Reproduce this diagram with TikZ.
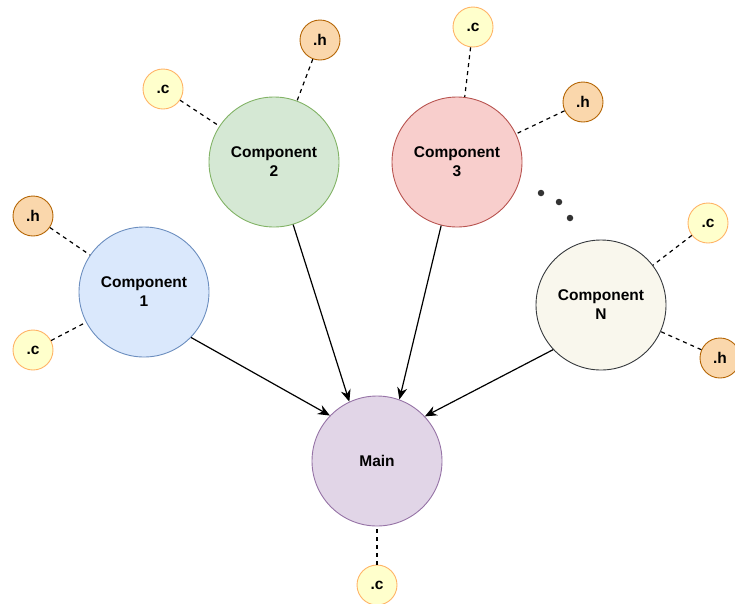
\documentclass[tikz,border=0pt]{standalone}
\usepackage{fontspec}
\setmainfont{Liberation Sans}
\usetikzlibrary{arrows.meta}
\definecolor{blueF}{HTML}{DAE8FC}\definecolor{blueD}{HTML}{6C8EBF}
\definecolor{greenF}{HTML}{D5E8D4}\definecolor{greenD}{HTML}{82B366}
\definecolor{redF}{HTML}{F8CECC}\definecolor{redD}{HTML}{B85450}
\definecolor{greyF}{HTML}{F9F7ED}\definecolor{greyD}{HTML}{36393D}
\definecolor{purpleF}{HTML}{E1D5E7}\definecolor{purpleD}{HTML}{9673A6}
\definecolor{hF}{HTML}{FAD7AC}\definecolor{hD}{HTML}{B46504}
\definecolor{cF}{HTML}{FFFFCC}\definecolor{cD}{HTML}{FFB366}
\tikzset{
  x=1pt, y=-1pt,
  every node/.style={font=\fontsize{15.5}{19}\selectfont\bfseries, align=center},
  bigcirc/.style={circle, minimum size=130pt, inner sep=0pt, line width=0.9pt},
  hfile/.style={circle, minimum size=40pt, inner sep=0pt, draw=hD, fill=hF, line width=0.9pt},
  cfile/.style={circle, minimum size=40pt, inner sep=0pt, draw=cD, fill=cF, line width=0.9pt},
  link/.style={dashed, dash pattern=on 4pt off 4pt, line width=1.2pt},
  feed/.style={line width=1.2pt, -{Stealth[length=12pt,width=10pt]}},
  dotmark/.style={circle, fill=black!80, minimum size=6.5pt, inner sep=0pt}
}
\begin{document}
\begin{tikzpicture}
\useasboundingbox (0,0) rectangle (735,603);
% component modules
\node[bigcirc, draw=blueD, fill=blueF] (c1) at (144,292) {Component\\1};
\node[bigcirc, draw=greenD, fill=greenF] (c2) at (274,162) {Component\\2};
\node[bigcirc, draw=redD, fill=redF] (c3) at (457,162) {Component\\3};
\node[bigcirc, draw=greyD, fill=greyF] (cn) at (601,305) {Component\\N};
\node[bigcirc, draw=purpleD, fill=purpleF] (main) at (377,461) {Main};
% source and header files
\node[hfile] (h1) at (33,216) {.h};
\node[cfile] (s1) at (33,350) {.c};
\node[cfile] (s2) at (163,89) {.c};
\node[hfile] (h2) at (320,40) {.h};
\node[cfile] (s3) at (473,27) {.c};
\node[hfile] (h3) at (583,102) {.h};
\node[cfile] (sn) at (708,223) {.c};
\node[hfile] (hn) at (720,358) {.h};
\node[cfile] (sm) at (377,585) {.c};
% file attachments
\draw[link] (h1) -- (c1);
\draw[link] (s1) -- (c1);
\draw[link] (s2) -- (c2);
\draw[link] (h2) -- (c2);
\draw[link] (s3) -- (c3);
\draw[link] (h3) -- (c3);
\draw[link] (sn) -- (cn);
\draw[link] (hn) -- (cn);
\draw[link] (sm) -- (main);
% dependencies into main
\draw[feed] (c1.-44) -- (main.136);
\draw[feed] (c2.-73) -- (main.115);
\draw[feed] (c3.-104) -- (main.70);
\draw[feed] (cn.-137) -- (main.43);
% ellipsis between component 3 and N
\node[dotmark] (d1) at (541,193) {};
\node[dotmark] (d2) at (559,202) {};
\node[dotmark] (d3) at (570,218) {};
\end{tikzpicture}
\end{document}
